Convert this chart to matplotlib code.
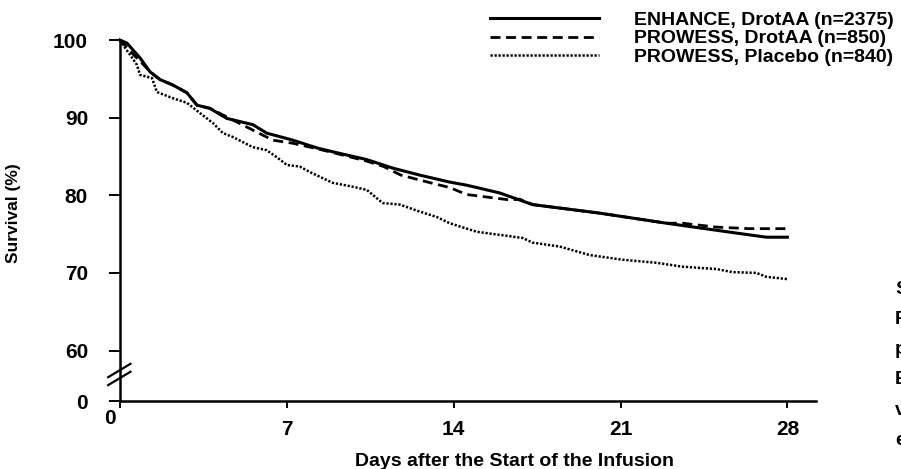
import matplotlib
matplotlib.use("Agg")
import matplotlib.pyplot as plt
import matplotlib.transforms as mtransforms

plt.rcParams['font.family'] = ['Liberation Sans', 'DejaVu Sans']

# Kaplan-Meier survival estimates
enhance_days = [0, 0.29, 0.84, 1.26, 1.68, 2.22, 2.81, 3.23, 3.77, 4.48, 5.57, 6.16,
                7.25, 8.26, 8.93, 10.35, 11.44, 12.57, 13.83, 14.54, 15.93, 17.31,
                20.12, 22.93, 24.31, 26.40, 27.12, 28.0]
enhance_surv = [100, 99.6, 97.7, 95.9, 94.9, 94.2, 93.2, 91.6, 91.2, 89.9, 89.1, 88.0,
                87.1, 86.1, 85.6, 84.6, 83.5, 82.6, 81.7, 81.3, 80.3, 78.8,
                77.7, 76.4, 75.8, 74.9, 74.6, 74.6]

prowess_drot_days = [0, 0.54, 0.96, 1.26, 1.68, 2.22, 2.81, 3.23, 3.77, 4.73, 5.57, 6.41,
                     7.25, 8.26, 8.93, 10.35, 11.06, 11.78, 13.16, 13.83, 14.54, 16.35,
                     16.77, 17.31, 20.12, 22.93, 23.60, 25.02, 26.40, 28.0]
prowess_drot_surv = [100, 98.2, 96.9, 95.9, 94.9, 94.2, 93.2, 91.6, 91.2, 89.7, 88.4, 87.1,
                     86.7, 86.0, 85.5, 84.4, 83.7, 82.6, 81.5, 81.0, 80.1, 79.4,
                     79.5, 78.8, 77.7, 76.4, 76.4, 75.9, 75.7, 75.7]

placebo_days = [0, 0.21, 0.42, 0.71, 0.84, 1.34, 1.55, 2.22, 2.81, 3.35, 3.90, 4.32, 4.74,
                5.57, 6.16, 6.58, 7.0, 7.54, 7.96, 8.51, 8.93, 9.77, 10.35, 11.02, 11.74,
                12.57, 13.29, 13.83, 14.96, 15.93, 16.89, 17.31, 18.44, 19.70, 21.08,
                22.51, 23.60, 25.02, 25.69, 26.70, 27.12, 28.0]
placebo_surv = [100, 99.0, 98.1, 96.8, 95.5, 95.1, 93.3, 92.5, 91.9, 90.6, 89.3, 88.0, 87.5,
                86.2, 85.8, 84.9, 83.9, 83.7, 83.0, 82.2, 81.6, 81.1, 80.7, 79.0, 78.8,
                77.9, 77.2, 76.4, 75.3, 74.9, 74.5, 73.9, 73.4, 72.3, 71.7,
                71.3, 70.8, 70.5, 70.1, 70.0, 69.5, 69.2]

labels = ["ENHANCE, DrotAA (n=2375)", "PROWESS, DrotAA (n=850)", "PROWESS, Placebo (n=840)"]

# the y axis is broken between 0 and 60; "0" sits at this position
y_zero_pos = 53.5
y_ticks = [y_zero_pos, 60, 70, 80, 90, 100]
y_ticklabels = ["0", "60", "70", "80", "90", "100"]
x_ticks = [0, 7, 14, 21, 28]

fig = plt.figure(figsize=(9.01, 4.69), dpi=100)
ax = fig.add_axes([120 / 901, 1 - 401 / 469, 696 / 901, 361 / 469])

l1, = ax.plot(enhance_days, enhance_surv, color='black', lw=2.2, clip_on=False)
l2, = ax.plot(prowess_drot_days, prowess_drot_surv, color='black', lw=2.0,
              linestyle=(0, (3.6, 2.0)), clip_on=False)
l3, = ax.plot(placebo_days, placebo_surv, color='black', lw=1.8,
              linestyle=(0, (0.9, 0.7)), clip_on=False)

ax.set_xlim(0, 29.2)
ax.set_ylim(y_zero_pos, 100)
ax.set_yticks(y_ticks)
ax.set_yticklabels(y_ticklabels)
ax.set_xticks(x_ticks)
ax.set_xticklabels([str(t) for t in x_ticks])

for s in ['top', 'right']:
    ax.spines[s].set_visible(False)
for s in ['left', 'bottom']:
    ax.spines[s].set_linewidth(1.8)

ax.tick_params(axis='y', direction='out', length=8, width=1.4, pad=15,
               labelsize=15, labelcolor='black')
ax.tick_params(axis='x', direction='out', length=5, width=1.4, pad=9,
               labelsize=15)
for lab in ax.get_xticklabels() + ax.get_yticklabels():
    lab.set_fontweight('bold')

# the "0" of the x axis sits up and to the left in the original
first = ax.get_xticklabels()[0]
first.set_transform(first.get_transform() +
                    mtransforms.ScaledTranslation(-10 / 100, 11 / 100, fig.dpi_scale_trans))

# axis break marks
for y0 in (0.066, 0.044):
    ax.plot([-0.017, 0.015], [y0, y0 + 0.037], transform=ax.transAxes,
            color='black', lw=1.6, clip_on=False)

ax.set_xlabel("Days after the Start of the Infusion", fontsize=14, fontweight='bold')
ax.xaxis.set_label_coords(0.5675, -0.143)
ax.set_ylabel("Survival (%)", fontsize=12.5, fontweight='bold')
ax.yaxis.set_label_coords(-0.142, 0.52)

fig.legend([l1, l2, l3], labels, loc='upper right', bbox_to_anchor=(1.005, 1.0),
           frameon=False, handlelength=5.6, handletextpad=1.8,
           labelspacing=0.03, borderaxespad=0.2,
           prop={'weight': 'bold', 'size': 14})

# clipped letters of the neighbouring page text at the right edge
edge_letters = ["S", "F", "p", "E", "v", "e"]
for i, ch in enumerate(edge_letters):
    fig.text(895 / 901, 1 - (289 + 30.3 * i) / 469, ch, fontsize=14, fontweight='bold',
             ha='left', va='center')

fig.savefig("out.png", dpi=100)
